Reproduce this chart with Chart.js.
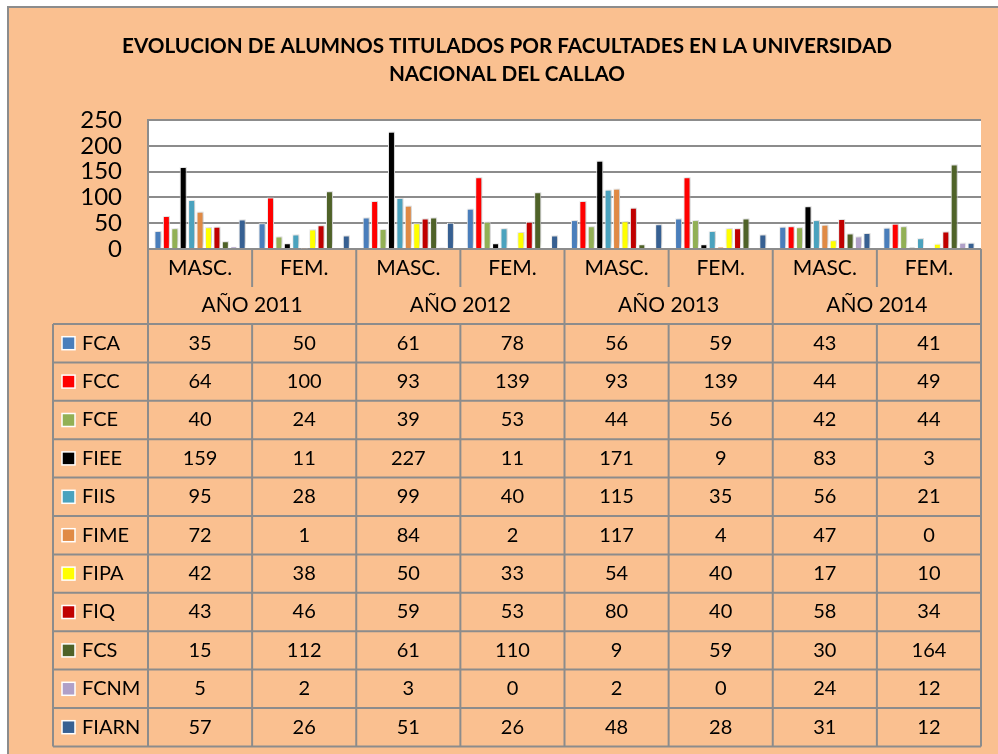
<!DOCTYPE html>
<html>
<head>
<meta charset="utf-8">
<script src="https://cdn.jsdelivr.net/npm/chart.js@4"></script>
<style>
  body { margin: 0; background: #fff; }
  canvas { display: block; }
</style>
</head>
<body>
<canvas id="chart" width="998" height="754"></canvas>
<script>
// --- data ---
const TITLE = ['EVOLUCION DE ALUMNOS TITULADOS POR FACULTADES EN LA UNIVERSIDAD', 'NACIONAL DEL CALLAO'];
const years = ['AÑO 2011', 'AÑO 2012', 'AÑO 2013', 'AÑO 2014'];
const sexes = ['MASC.', 'FEM.'];
const faculties = ['FCA', 'FCC', 'FCE', 'FIEE', 'FIIS', 'FIME', 'FIPA', 'FIQ', 'FCS', 'FCNM', 'FIARN'];

const FCA   = [35, 50, 61, 78, 56, 59, 43, 41];
const FCC   = [64, 100, 93, 139, 93, 139, 44, 49];
const FCE   = [40, 24, 39, 53, 44, 56, 42, 44];
const FIEE  = [159, 11, 227, 11, 171, 9, 83, 3];
const FIIS  = [95, 28, 99, 40, 115, 35, 56, 21];
const FIME  = [72, 1, 84, 2, 117, 4, 47, 0];
const FIPA  = [42, 38, 50, 33, 54, 40, 17, 10];
const FIQ   = [43, 46, 59, 53, 80, 40, 58, 34];
const FCS   = [15, 112, 61, 110, 9, 59, 30, 164];
const FCNM  = [5, 2, 3, 0, 2, 0, 24, 12];
const FIARN = [57, 26, 51, 26, 48, 28, 31, 12];

const series = [FCA, FCC, FCE, FIEE, FIIS, FIME, FIPA, FIQ, FCS, FCNM, FIARN];
const colors = ['#4A7EBB', '#FF0000', '#92B055', '#000000', '#4AA2BE', '#E08A45',
                '#FFFF00', '#C00000', '#4F6228', '#B0A0C8', '#376092'];

const labels = [];
years.forEach(y => sexes.forEach(s => labels.push(s)));

const LINE = '#8c8c8c';
const FONT = 'Lato';

const frame = {
    id: 'frame',
    beforeDraw(chart) {
        const ctx = chart.ctx;
        const a = chart.chartArea;
        ctx.save();
        ctx.fillStyle = '#fff';
        ctx.fillRect(0, 0, chart.width, chart.height);
        ctx.fillStyle = '#FAC090';
        ctx.fillRect(8, 7, chart.width - 8, chart.height - 7);
        ctx.strokeStyle = LINE;
        ctx.lineWidth = 2;
        ctx.beginPath();
        ctx.moveTo(8, chart.height);
        ctx.lineTo(8, 7);
        ctx.lineTo(chart.width, 7);
        ctx.stroke();

        ctx.fillStyle = '#fff';
        ctx.fillRect(a.left, a.top, a.right - a.left, a.bottom - a.top);

        // title: bold, squeezed horizontally to the width of the first line
        ctx.font = 'bold 21px ' + FONT;
        const sx = 770 / ctx.measureText(TITLE[0]).width;
        ctx.fillStyle = '#000';
        ctx.textAlign = 'center';
        ctx.textBaseline = 'middle';
        ctx.translate(507, 0);
        ctx.scale(sx, 1);
        ctx.fillText(TITLE[0], 0, 46);
        ctx.fillText(TITLE[1], 0, 74);
        ctx.restore();
    },
    beforeDatasetsDraw(chart) {
        const ctx = chart.ctx;
        ctx.save();
        ctx.shadowColor = 'rgba(0,0,0,0.35)';
        ctx.shadowBlur = 6;
        ctx.shadowOffsetX = 2;
        ctx.shadowOffsetY = -2;
    },
    afterDatasetsDraw(chart) {
        chart.ctx.restore();
    },
    afterDraw(chart) {
        const ctx = chart.ctx;
        const a = chart.chartArea;
        const x = chart.scales.x;
        const half = (x.getPixelForValue(1) - x.getPixelForValue(0)) / 2;
        const edge = i => i < labels.length ? x.getPixelForValue(i) - half : x.getPixelForValue(i - 1) + half;

        const row1 = a.bottom + 38;
        const tableTop = a.bottom + 75;
        const rowH = 38.4;
        const tableBottom = tableTop + rowH * faculties.length;
        const tableLeft = 53;

        ctx.save();
        ctx.strokeStyle = LINE;
        ctx.lineWidth = 2;
        ctx.beginPath();
        // outer verticals
        ctx.moveTo(edge(0), a.top); ctx.lineTo(edge(0), tableBottom);
        ctx.moveTo(edge(labels.length), a.bottom); ctx.lineTo(edge(labels.length), tableBottom);
        ctx.moveTo(tableLeft, tableTop); ctx.lineTo(tableLeft, tableBottom);
        // inner verticals
        for (let i = 1; i < labels.length; i++) {
            const px = edge(i);
            if (i % sexes.length === 0) {
                ctx.moveTo(px, a.bottom); ctx.lineTo(px, tableBottom);
            } else {
                ctx.moveTo(px, a.bottom); ctx.lineTo(px, row1);
                ctx.moveTo(px, tableTop); ctx.lineTo(px, tableBottom);
            }
        }
        // horizontals
        for (let r = 0; r <= faculties.length; r++) {
            const py = tableTop + r * rowH;
            ctx.moveTo(tableLeft, py); ctx.lineTo(edge(labels.length), py);
        }
        ctx.stroke();

        ctx.fillStyle = '#000';
        ctx.textAlign = 'center';
        ctx.textBaseline = 'middle';
        ctx.font = '21px ' + FONT;
        labels.forEach((l, i) => ctx.fillText(l, x.getPixelForValue(i), a.bottom + 19));
        years.forEach((y, j) => {
            const cx = (edge(j * 2) + edge(j * 2 + 2)) / 2;
            ctx.fillText(y, cx, row1 + 18.5);
        });

        ctx.font = '20px ' + FONT;
        faculties.forEach((f, r) => {
            const cy = tableTop + r * rowH + rowH / 2;
            ctx.fillStyle = colors[r];
            ctx.fillRect(62, cy - 6.5, 13, 13);
            ctx.strokeStyle = '#fff';
            ctx.lineWidth = 1.5;
            ctx.strokeRect(62, cy - 6.5, 13, 13);
            ctx.fillStyle = '#000';
            ctx.textAlign = 'left';
            ctx.fillText(f, 82, cy);
            ctx.textAlign = 'center';
            series[r].forEach((v, i) => ctx.fillText(String(v), x.getPixelForValue(i), cy));
        });
        ctx.restore();
    }
};

const chart = new Chart(document.getElementById('chart'), {
    type: 'bar',
    data: {
        labels: labels,
        datasets: faculties.map((f, i) => ({
            label: f,
            data: series[i],
            backgroundColor: colors[i],
            borderColor: '#fff',
            borderWidth: 1
        }))
    },
    options: {
        responsive: false,
        animation: false,
        layout: { padding: { top: 120, left: 0, right: 17, bottom: 505 } },
        datasets: { bar: { categoryPercentage: 0.89, barPercentage: 0.83 } },
        plugins: {
            legend: { display: false },
            title: { display: false },
            tooltip: { enabled: false }
        },
        scales: {
            x: { display: false, offset: true },
            y: {
                min: 0,
                max: 250,
                ticks: {
                    stepSize: 50, autoSkip: false, padding: 26, color: '#000',
                    font: { family: FONT, size: 24, lineHeight: 1 }
                },
                grid: { color: LINE, lineWidth: 2, drawTicks: false },
                border: { display: true, color: LINE, width: 2 },
                afterFit(scale) { scale.width = 148; }
            }
        }
    },
    plugins: [frame]
});
</script>
</body>
</html>
